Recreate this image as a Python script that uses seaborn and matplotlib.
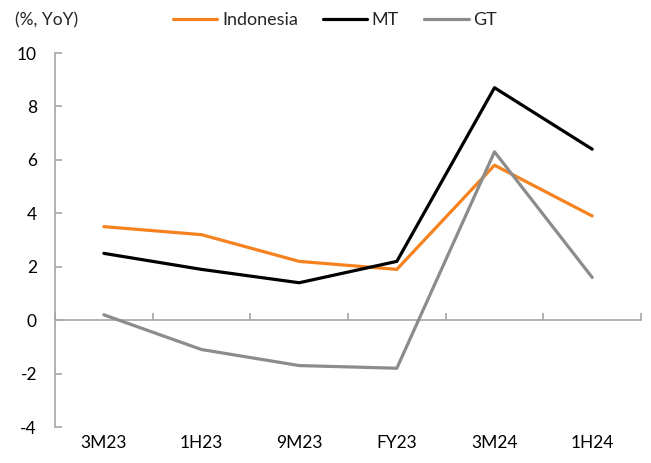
import matplotlib
matplotlib.use("Agg")
import matplotlib.pyplot as plt
import seaborn as sns
import pandas as pd

periods = ["3M23", "1H23", "9M23", "FY23", "3M24", "1H24"]
indonesia = [3.5, 3.2, 2.2, 1.9, 5.8, 3.9]
mt = [2.5, 1.9, 1.4, 2.2, 8.7, 6.4]
gt = [0.2, -1.1, -1.7, -1.8, 6.3, 1.6]
series_names = ["Indonesia", "MT", "GT"]
y_ticks = [-4, -2, 0, 2, 4, 6, 8, 10]

sns.set_style("white")
plt.rcParams["font.family"] = ["Lato", "DejaVu Sans"]

df = pd.DataFrame({
    "period": periods * 3,
    "x": list(range(len(periods))) * 3,
    "value": indonesia + mt + gt,
    "series": [s for s in series_names for _ in periods],
})

palette = {"Indonesia": "#F5821F", "MT": "#000000", "GT": "#8C8C8C"}
axis_grey = "#A6A6A6"

fig = plt.figure(figsize=(6.51, 4.63), dpi=100)
ax = fig.add_axes([55 / 651, (463 - 427) / 463, (641 - 55) / 651, (427 - 53) / 463])

sns.lineplot(data=df, x="x", y="value", hue="series", hue_order=series_names,
             palette=palette, linewidth=2.3, ax=ax, legend=True)

ax.set_xlim(-0.5, len(periods) - 0.5)
ax.set_ylim(-4, 10)
ax.set_yticks(y_ticks)
ax.set_yticklabels([str(v) for v in y_ticks])
ax.set_xticks(range(len(periods)))
ax.set_xticklabels(periods)
ax.set_xlabel("")
ax.set_ylabel("")

for side in ["top", "right", "bottom"]:
    ax.spines[side].set_visible(False)
ax.spines["left"].set_color(axis_grey)
ax.spines["left"].set_linewidth(1.2)
ax.tick_params(axis="y", direction="in", length=5, width=1.2, color=axis_grey,
               labelsize=12.5, pad=13, labelcolor="#000000", left=True)
ax.tick_params(axis="x", length=0, labelsize=12.5, pad=6, labelcolor="#000000")

# category axis drawn through zero, with tick marks between categories
zero_frac = (0 - (-4)) / (10 - (-4))
sec = ax.secondary_xaxis(zero_frac)
sec.set_xticks([i - 0.5 for i in range(len(periods) + 1)])
sec.set_xticklabels([])
sec.tick_params(axis="x", direction="in", length=5, width=1.2, color=axis_grey)
sec.spines["bottom"].set_color(axis_grey)
sec.spines["bottom"].set_linewidth(1.2)

handles, labels = ax.get_legend_handles_labels()
ax.legend(handles, labels, loc="center", bbox_to_anchor=(335 / 651, 1 - 20 / 463),
          bbox_transform=fig.transFigure, ncol=3, frameon=False, fontsize=13,
          handlelength=2.45, handletextpad=0.25, columnspacing=1.4)

fig.text(15 / 651, 1 - 20 / 463, "(%, YoY)", fontsize=12.5, va="center", ha="left")

fig.savefig("out.png", dpi=100)
